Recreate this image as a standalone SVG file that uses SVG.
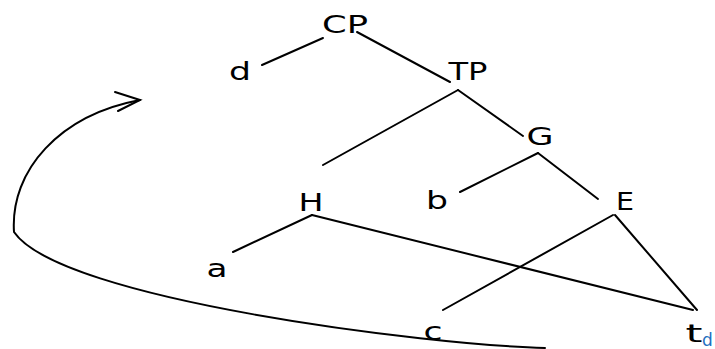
<svg xmlns="http://www.w3.org/2000/svg" width="715" height="349" viewBox="0 0 715 349">
<style>
.lbl{font-family:"DejaVu Sans","Liberation Sans",sans-serif;font-size:25px;fill:#000;text-anchor:middle}
.sub{font-family:"DejaVu Sans","Liberation Sans",sans-serif;font-size:17px;fill:#1f6fc0}
.edge{stroke:#000;stroke-width:2;fill:none;stroke-linecap:round}
</style>
<rect width="715" height="349" fill="#fff"/>
<g id="connectors">
<line class="edge" x1="262" y1="65" x2="323" y2="38"/>
<line class="edge" x1="357" y1="32" x2="450" y2="82"/>
<line class="edge" x1="458" y1="90" x2="323" y2="165"/>
<line class="edge" x1="458" y1="90" x2="523" y2="136"/>
<line class="edge" x1="538" y1="153" x2="460" y2="192"/>
<line class="edge" x1="538" y1="153" x2="598" y2="199"/>
<line class="edge" x1="312" y1="215" x2="233" y2="252"/>
<line class="edge" x1="312" y1="215" x2="693" y2="310"/>
<line class="edge" x1="613" y1="215" x2="443" y2="310"/>
<line class="edge" x1="615" y1="215" x2="697" y2="310"/>
<path class="edge" d="M545,348 C430,345 60,300 14,232 C10,170 60,115 140,100"/>
<path class="edge" d="M115,92 L140,100 L118,111"/>
</g>
<g id="node-CP"><text class="lbl" x="345" y="33" textLength="46" lengthAdjust="spacingAndGlyphs">CP</text></g>
<g id="node-d"><text class="lbl" x="240" y="80" textLength="22" lengthAdjust="spacingAndGlyphs">d</text></g>
<g id="node-TP"><text class="lbl" x="468" y="80" textLength="39" lengthAdjust="spacingAndGlyphs">TP</text></g>
<g id="node-G"><text class="lbl" x="540" y="145" textLength="27" lengthAdjust="spacingAndGlyphs">G</text></g>
<g id="node-b"><text class="lbl" x="437" y="209" textLength="22" lengthAdjust="spacingAndGlyphs">b</text></g>
<g id="node-E"><text class="lbl" x="625" y="210" textLength="18" lengthAdjust="spacingAndGlyphs">E</text></g>
<g id="node-H"><text class="lbl" x="311" y="211" textLength="25" lengthAdjust="spacingAndGlyphs">H</text></g>
<g id="node-a"><text class="lbl" x="217" y="277" textLength="21" lengthAdjust="spacingAndGlyphs">a</text></g>
<g id="node-c"><text class="lbl" x="433" y="340" textLength="19" lengthAdjust="spacingAndGlyphs">c</text></g>
<g id="node-td"><text class="lbl" x="694" y="342" textLength="17" lengthAdjust="spacingAndGlyphs">t</text><text class="sub" x="702" y="346">d</text></g>
</svg>
